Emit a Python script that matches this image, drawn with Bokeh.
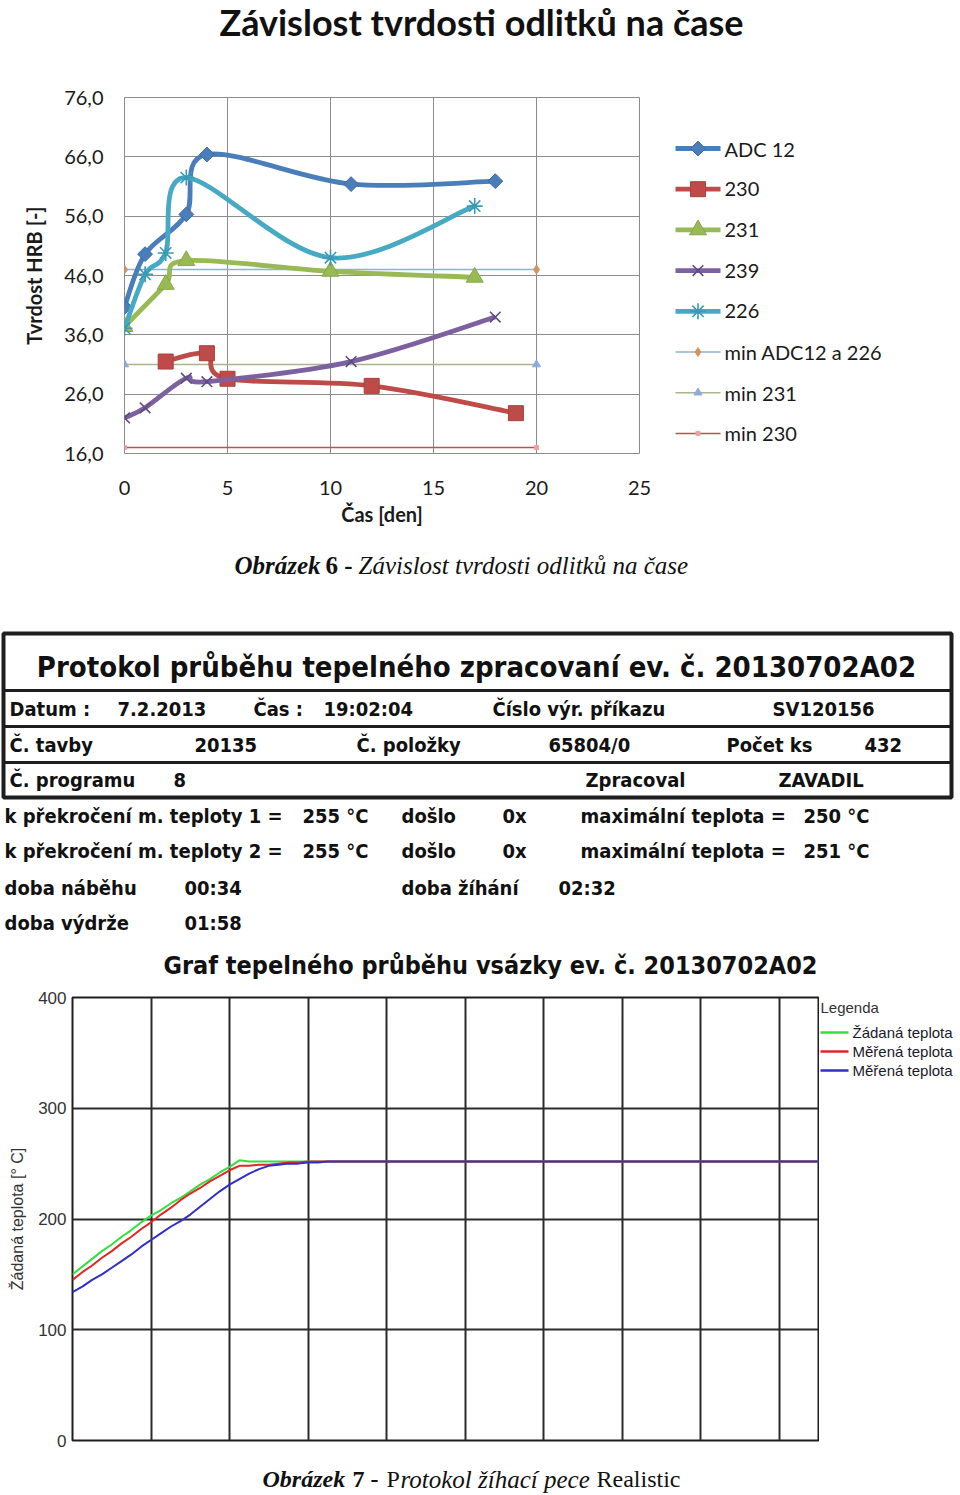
import numpy as np
from bokeh.plotting import figure
from bokeh.models import Range1d, FixedTicker, ColumnDataSource
from bokeh.layouts import row
from bokeh.embed import file_html
from bokeh.resources import INLINE
from bokeh.core.properties import value

# ---------------- Chart 1 data (Obrázek 6) ----------------
x_ticks_days = [0, 5, 10, 15, 20, 25]
y_ticks_hrb = [16, 26, 36, 46, 56, 66, 76]
y_tick_labels_hrb = ["16,0", "26,0", "36,0", "46,0", "56,0", "66,0", "76,0"]

days_adc12 = [0, 1, 3, 4, 11, 18]
hrb_adc12 = [40.7, 49.6, 56.3, 66.4, 61.4, 61.9]
days_230 = [2, 4, 5, 12, 19]
hrb_230 = [31.5, 32.9, 28.6, 27.4, 22.8]
days_231 = [0, 2, 3, 10, 17]
hrb_231 = [37.4, 44.5, 48.5, 46.7, 45.7]
days_239 = [0, 1, 3, 4, 11, 18]
hrb_239 = [22.0, 23.7, 28.7, 28.1, 31.5, 39.0]
days_226 = [0, 1, 2, 3, 10, 17]
hrb_226 = [37.1, 46.2, 49.8, 62.5, 49.0, 57.7]
days_min = [0, 20]
hrb_min_adc12_226 = [47, 47]
hrb_min_231 = [31, 31]
hrb_min_230 = [17, 17]

# ---------------- Chart 2 data (Obrázek 7) ----------------
minutes = [0, 2, 4, 6, 8, 10, 12, 14, 16, 18, 20, 22, 24, 26, 28, 30, 32, 34,
           36, 38, 40, 42, 44, 46, 48, 50, 52, 152]
temp_set = [150, 157, 164, 171, 177, 184, 190, 197, 203, 208, 214, 219, 225, 231, 236, 242, 247, 253,
            252, 252, 252, 252, 252, 252, 252, 252, 252, 252]
temp_meas1 = [145, 152, 158, 165, 171, 178, 184, 191, 197, 204, 210, 217, 223, 228, 234, 239, 244, 248,
              248, 249, 249, 250, 251, 251, 252, 252, 252, 252]
temp_meas2 = [134, 139, 145, 150, 156, 162, 168, 175, 181, 187, 193, 198, 204, 211, 218, 225, 231, 236,
              241, 245, 248, 249, 250, 250, 251, 251, 252, 252]
x_grid_minutes = [0, 16, 32, 48, 64, 80, 96, 112, 128, 144]
y_ticks_temp = [0, 100, 200, 300, 400]

# ---------------- Texts ----------------
chart_title = "Závislost tvrdosti odlitků na čase"
protocol_title = "Protokol průběhu tepelného zpracovaní ev. č. 20130702A02"
row_datum = ["Datum :", "7.2.2013", "Čas :", "19:02:04", "Číslo výr. příkazu", "SV120156"]
row_tavba = ["Č. tavby", "20135", "Č. položky", "65804/0", "Počet ks", "432"]
row_program = ["Č. programu", "8", "Zpracoval", "ZAVADIL"]
row_limit1 = ["k překročení m. teploty 1 =", "255 °C", "došlo", "0x", "maximální teplota =", "250 °C"]
row_limit2 = ["k překročení m. teploty 2 =", "255 °C", "došlo", "0x", "maximální teplota =", "251 °C"]
row_times1 = ["doba náběhu", "00:34", "doba žíhání", "02:32"]
row_times2 = ["doba výdrže", "01:58"]
graph_title = "Graf tepelného průběhu vsázky ev. č. 20130702A02"
caption6 = [("Obrázek", "bold italic"), ("6 -", "bold"), ("Závislost tvrdosti odlitků na čase", "italic")]
caption7 = [("Obrázek", "bold italic"), ("7 -", "bold"), ("P", "normal"),
            ("rotokol žíhací pece", "italic"), ("Realistic", "normal")]
legend_furnace_title = "Legenda"
legend_furnace = ["Žádaná teplota", "Měřená teplota", "Měřená teplota"]

W = 960
SANS = "Lato"
SERIF = "Liberation Serif"
TABLE_FONT = "DejaVu Sans Condensed"


def bezier_source(xs, ys):
    n = len(xs)
    d = {k: [] for k in ("x0", "y0", "x1", "y1", "cx0", "cy0", "cx1", "cy1")}
    for i in range(n - 1):
        im = max(i - 1, 0)
        ip = min(i + 2, n - 1)
        d["x0"].append(xs[i]); d["y0"].append(ys[i])
        d["x1"].append(xs[i + 1]); d["y1"].append(ys[i + 1])
        d["cx0"].append(xs[i] + (xs[i + 1] - xs[im]) / 6.0)
        d["cy0"].append(ys[i] + (ys[i + 1] - ys[im]) / 6.0)
        d["cx1"].append(xs[i + 1] - (xs[ip] - xs[i]) / 6.0)
        d["cy1"].append(ys[i + 1] - (ys[ip] - ys[i]) / 6.0)
    return ColumnDataSource(d)


def text_panel(width, height, top=0, bottom=0):
    """A figure whose frame is used as a pixel canvas, y measured downwards."""
    fh = height - top - bottom
    f = figure(width=width, height=height, x_range=Range1d(0, width), y_range=Range1d(fh, 0),
               output_backend="svg", toolbar_location=None, min_border_left=0, min_border_right=0,
               min_border_top=top, min_border_bottom=bottom,
               x_axis_location=None, y_axis_location=None)
    f.grid.visible = False
    f.outline_line_color = None
    return f


# ======================= T: chart title =======================
pT = text_panel(W, 50)
pT.text(x=[481], y=[21], text=[chart_title], text_font=value(SANS), text_font_size="36px",
        text_font_style="bold", text_baseline="middle", text_align="center", text_color="#111111")

# ======================= A: hardness chart =======================
A_W, A_H, A_TOP, A_BOT = 660, 490, 47, 87
pA = figure(width=A_W, height=A_H, x_range=Range1d(0, 25), y_range=Range1d(16, 76),
            output_backend="svg", toolbar_location=None,
            min_border_left=124, min_border_right=21, min_border_top=A_TOP, min_border_bottom=A_BOT)
pA.outline_line_color = "#8c8c8c"
pA.grid.grid_line_color = "#8c8c8c"
pA.grid.grid_line_width = 1
for ax in (pA.xaxis[0], pA.yaxis[0]):
    ax.axis_line_color = None
    ax.major_tick_in = 0
    ax.major_tick_out = 0
    ax.minor_tick_line_color = None
    ax.major_label_text_font = SANS
    ax.major_label_text_font_size = "20px"
    ax.major_label_text_color = "#1a1a1a"
    ax.axis_label_text_font = SANS
    ax.axis_label_text_font_size = "20px"
    ax.axis_label_text_font_style = "bold"
    ax.axis_label_text_color = "#1a1a1a"
pA.xaxis.ticker = FixedTicker(ticks=x_ticks_days)
pA.xaxis.major_label_standoff = 27
pA.xaxis.axis_label = "Čas [den]"
pA.xaxis.axis_label_standoff = 4
pA.yaxis.ticker = FixedTicker(ticks=y_ticks_hrb)
pA.yaxis.major_label_overrides = dict(zip(y_ticks_hrb, y_tick_labels_hrb))
pA.yaxis.major_label_standoff = 21
pA.yaxis.axis_label = "Tvrdost HRB [-]"
pA.yaxis.axis_label_standoff = 15

legend_entries = []  # (label, line color, line width, marker kwargs)
min_specs = [
    ("min ADC12 a 226", hrb_min_adc12_226, "#8fb0d8", dict(marker="diamond", size=9,
                                                           fill_color="#d4955c", line_color="#d4955c")),
    ("min 231", hrb_min_231, "#a9b38c", dict(marker="triangle", size=8,
                                             fill_color="#8eaadb", line_color="#8eaadb")),
    ("min 230", hrb_min_230, "#b8544f", dict(marker="square", size=4,
                                             fill_color="#f0a0a0", line_color="#f0a0a0")),
]
for label, ys, lc, mkw in min_specs:
    pA.line(days_min, ys, line_color=lc, line_width=1.5)
    pA.scatter(days_min, ys, **mkw)

main_specs = [
    ("ADC 12", days_adc12, hrb_adc12, "#4a7ebb", dict(marker="square", angle=np.pi / 4, size=10.5,
                                                         fill_color="#4a7ebb", line_color="#3d6aa6")),
    ("230", days_230, hrb_230, "#be4b48", dict(marker="square", size=15, fill_color="#be4b48",
                                                line_color="#a8403d")),
    ("231", days_231, hrb_231, "#98b954", dict(marker="triangle", size=17, fill_color="#98b954",
                                                line_color="#87a848")),
    ("239", days_239, hrb_239, "#7d60a0", dict(marker="x", size=15, line_color="#5e4b7d", line_width=1.6)),
    ("226", days_226, hrb_226, "#46aac5", dict(marker="asterisk", size=16, line_color="#3a9ab5",
                                                line_width=1.6)),
]
for label, xs, ys, col, mkw in main_specs:
    pA.bezier(x0="x0", y0="y0", x1="x1", y1="y1", cx0="cx0", cy0="cy0", cx1="cx1", cy1="cy1",
              source=bezier_source(xs, ys), line_color=col, line_width=4.8)
    pA.scatter(xs, ys, **mkw)
    legend_entries.append((label, col, 4.8, mkw))
for label, ys, lc, mkw in min_specs:
    legend_entries.append((label, lc, 1.5, mkw))

# legend of chart A, drawn in its own panel to the right of the plot area
L_W = W - A_W
pL = text_panel(L_W, A_H, top=A_TOP, bottom=A_BOT)
LEG_X0, LEG_X1, LEG_TX, LEG_Y0, LEG_DY = 15, 60, 64, 51, 40.7
for i, (label, col, lw, mkw) in enumerate(legend_entries):
    yy = LEG_Y0 + i * LEG_DY
    pL.segment(x0=[LEG_X0], y0=[yy], x1=[LEG_X1], y1=[yy], line_color=col, line_width=lw)
    pL.scatter(x=[(LEG_X0 + LEG_X1) / 2], y=[yy], **mkw)
    pL.text(x=[LEG_TX], y=[yy], text=[label], text_font=value(SANS), text_font_size="20px",
            text_baseline="middle", text_align="left", text_color="#1a1a1a")

# ======================= B: caption 6 + protocol =======================
B_TOP = 540
HB = 440
pB = text_panel(W, HB)
cap6_x = [234, 325, 358]
for (txt, st), xx in zip(caption6, cap6_x):
    pB.text(x=[xx], y=[565 - B_TOP], text=[txt], text_font=value(SERIF), text_font_size="25px",
            text_font_style=st, text_baseline="middle", text_align="left", text_color="#111111")

pB.quad(left=[3], right=[951], top=[633 - B_TOP], bottom=[797 - B_TOP], fill_alpha=0,
        line_color="#1e1e1e", line_width=4)
sep_y = [690 - B_TOP, 726 - B_TOP, 762 - B_TOP]
pB.segment(x0=[3] * 3, y0=sep_y, x1=[951] * 3, y1=sep_y, line_color="#1e1e1e", line_width=3)

pB.text(x=[476], y=[666 - B_TOP], text=[protocol_title], text_font=value(TABLE_FONT),
        text_font_size="29px", text_font_style="bold", text_baseline="middle", text_align="center",
        text_color="#111111")

rows = [
    (row_datum, [9, 117, 253, 323, 492, 772], 708),
    (row_tavba, [9, 194, 356, 548, 726, 864], 744),
    (row_program, [9, 173, 585, 778], 779),
    (row_limit1, [4, 302, 401, 502, 580, 803], 815),
    (row_limit2, [4, 302, 401, 502, 580, 803], 850),
    (row_times1, [4, 184, 401, 558], 887),
    (row_times2, [4, 184], 922),
]
tx, ty, tt = [], [], []
for cells, xs, yy in rows:
    for c, xx in zip(cells, xs):
        tx.append(xx); ty.append(yy - B_TOP); tt.append(c)
pB.text(x=tx, y=ty, text=tt, text_font=value(TABLE_FONT), text_font_size="20px",
        text_font_style="bold", text_baseline="middle", text_align="left", text_color="#111111")

pB.text(x=[490], y=[965 - B_TOP], text=[graph_title], text_font=value(TABLE_FONT), text_font_size="25px",
        text_font_style="bold", text_baseline="middle", text_align="center", text_color="#111111")

# ======================= C: furnace temperature chart =======================
C_W, C_H, C_TOP, C_BOT = 819, 485, 17, 25
pC = figure(width=C_W, height=C_H, x_range=Range1d(0, 152), y_range=Range1d(0, 400),
            output_backend="svg", toolbar_location=None,
            min_border_left=72, min_border_right=1, min_border_top=C_TOP, min_border_bottom=C_BOT)
pC.outline_line_color = "#1e1e1e"
pC.outline_line_width = 2
pC.xaxis.visible = False
pC.xgrid.ticker = FixedTicker(ticks=x_grid_minutes)
pC.grid.grid_line_color = "#2b2b2b"
pC.grid.grid_line_width = 2
pC.yaxis.ticker = FixedTicker(ticks=y_ticks_temp)
pC.yaxis.axis_line_color = None
pC.yaxis.major_tick_in = 0
pC.yaxis.major_tick_out = 0
pC.yaxis.minor_tick_line_color = None
pC.yaxis.major_label_standoff = 6
pC.yaxis.major_label_text_font = "Liberation Sans"
pC.yaxis.major_label_text_font_size = "17px"
pC.yaxis.major_label_text_color = "#333333"
pC.yaxis.axis_label = "Žádaná teplota [° C]"
pC.yaxis.axis_label_text_font = "Liberation Sans"
pC.yaxis.axis_label_text_font_size = "16px"
pC.yaxis.axis_label_text_font_style = "normal"
pC.yaxis.axis_label_text_color = "#333333"
pC.yaxis.axis_label_standoff = 9

furnace_colors = ["#33e040", "#e52525", "#3030c8"]
for ys, col in zip([temp_set, temp_meas1, temp_meas2], furnace_colors):
    pC.line(minutes, ys, line_color=col, line_width=2)

# legend of chart C, drawn in its own panel to the right of the plot area
pCL = text_panel(W - C_W, C_H, top=C_TOP, bottom=C_BOT)
pCL.text(x=[1], y=[10], text=[legend_furnace_title], text_font=value("Liberation Sans"),
         text_font_size="15px", text_baseline="middle", text_align="left", text_color="#333333")
CL_Y0, CL_DY = 35, 19
for i, (label, col) in enumerate(zip(legend_furnace, furnace_colors)):
    yy = CL_Y0 + i * CL_DY
    pCL.segment(x0=[1], y0=[yy], x1=[29], y1=[yy], line_color=col, line_width=2.5)
    pCL.text(x=[33], y=[yy], text=[label], text_font=value("Liberation Sans"), text_font_size="15px",
             text_baseline="middle", text_align="left", text_color="#1a1a2a")

# ======================= D: caption 7 =======================
pD = text_panel(W, 29)
cap7_x = [262, 352, 386, 400, 596]
cap7_size = ["24px", "24px", "24px", "25px", "24px"]
for (txt, st), xx, fs in zip(caption7, cap7_x, cap7_size):
    pD.text(x=[xx], y=[13.5], text=[txt], text_font=value(SERIF), text_font_size=fs,
            text_font_style=st, text_baseline="middle", text_align="left", text_color="#111111")

open("out.html", "w").write(file_html([pT, row(pA, pL), pB, row(pC, pCL), pD], INLINE))
